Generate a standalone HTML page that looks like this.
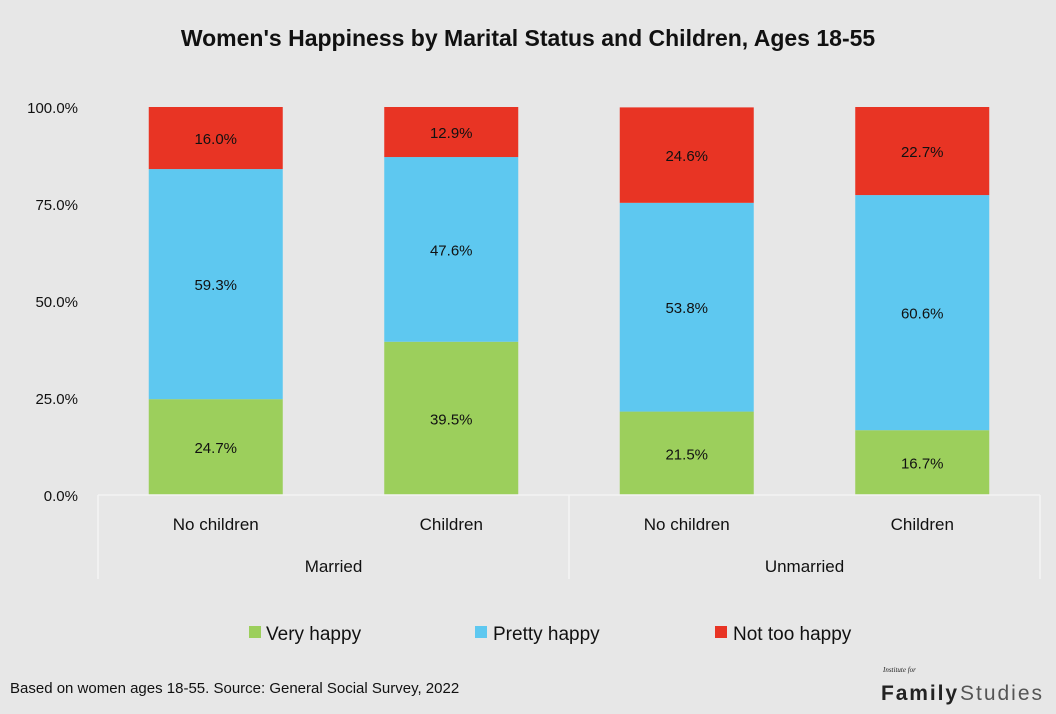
<!DOCTYPE html>
<html><head><meta charset="utf-8"><style>
body{margin:0;background:#e7e7e7;}
svg{display:block;font-family:"Liberation Sans",sans-serif;}
</style></head><body>
<svg id="c" width="1056" height="714" viewBox="0 0 1056 714">
<rect width="1056" height="714" fill="#e7e7e7"/>
<text x="528" y="46" text-anchor="middle" font-size="23" font-weight="bold" fill="#111">Women's Happiness by Marital Status and Children, Ages 18-55</text>
<g id="yaxis"></g>
<g id="bars"></g>
<g id="xaxis"></g>
<g>
<g><rect x="249" y="626" width="12" height="12" fill="#9ccf5c"/><text x="266" y="640" font-size="19" fill="#111">Very happy</text></g>
<g><rect x="475" y="626" width="12" height="12" fill="#5ec8f0"/><text x="493" y="640" font-size="19" fill="#111">Pretty happy</text></g>
<g><rect x="715" y="626" width="12" height="12" fill="#e83424"/><text x="733" y="640" font-size="19" fill="#111">Not too happy</text></g>
</g>
<text x="10" y="693" font-size="15" fill="#111">Based on women ages 18-55. Source: General Social Survey, 2022</text>
<g>
<text x="883" y="672" font-size="7" font-style="italic" font-family="Liberation Serif,serif" fill="#222">Institute for</text>
<text x="881" y="700" font-size="21" font-weight="bold" fill="#222" textLength="76">Family</text><text x="960" y="700" font-size="21" fill="#555" textLength="82">Studies</text>
</g>
</svg>
<script>
const categories=["No children","Children","No children","Children"];
const groups=["Married","Unmarried"];
const veryHappy=[24.7,39.5,21.5,16.7];
const prettyHappy=[59.3,47.6,53.8,60.6];
const notTooHappy=[16.0,12.9,24.6,22.7];
const yTicks=[0,25,50,75,100];
const NS="http://www.w3.org/2000/svg";
const y0=495,y1=107,xL=98,xR=1040,bw=134;
const yS=v=>y0-(v/100)*(y0-y1);
const step=(xR-xL)/categories.length;
const xC=i=>xL+step*(i+0.5);
function mk(t,a,p){const e=document.createElementNS(NS,t);for(const k in a)e.setAttribute(k,a[k]);p.appendChild(e);return e;}
const ya=document.getElementById('yaxis');
yTicks.forEach(t=>{const e=mk('text',{x:78,y:yS(t)+6,'text-anchor':'end','font-size':15,fill:'#111'},ya);e.textContent=t.toFixed(1)+'%';

});
const bg=document.getElementById('bars');
const series=[[veryHappy,'#9ccf5c','very-happy'],[prettyHappy,'#5ec8f0','pretty-happy'],[notTooHappy,'#e83424','not-too-happy']];
categories.forEach((c,i)=>{let base=0;series.forEach(([arr,col,nm])=>{const v=arr[i];
const r=mk('rect',{x:xC(i)-bw/2,y:yS(base+v),width:bw,height:yS(base)-yS(base+v),fill:col},bg);


const t=mk('text',{x:xC(i),y:(yS(base)+yS(base+v))/2+6,'text-anchor':'middle','font-size':15,fill:'#111'},bg);t.textContent=v.toFixed(1)+'%';


base+=v;});});
const xa=document.getElementById('xaxis');
mk('line',{x1:xL,x2:xR,y1:y0,y2:y0,stroke:'#f4f4f4','stroke-width':1.5},xa);
[0,2,4].forEach(k=>{const x=xL+step*k;mk('line',{x1:x,x2:x,y1:y0,y2:579,stroke:'#f4f4f4','stroke-width':1.5},xa);});
categories.forEach((c,i)=>{const t=mk('text',{x:xC(i),y:530,'text-anchor':'middle','font-size':17,fill:'#111'},xa);t.textContent=c;

});
groups.forEach((g,j)=>{const t=mk('text',{x:xL+step*(2*j+1),y:572,'text-anchor':'middle','font-size':17,fill:'#111'},xa);t.textContent=g;

});
</script>
</body></html>
